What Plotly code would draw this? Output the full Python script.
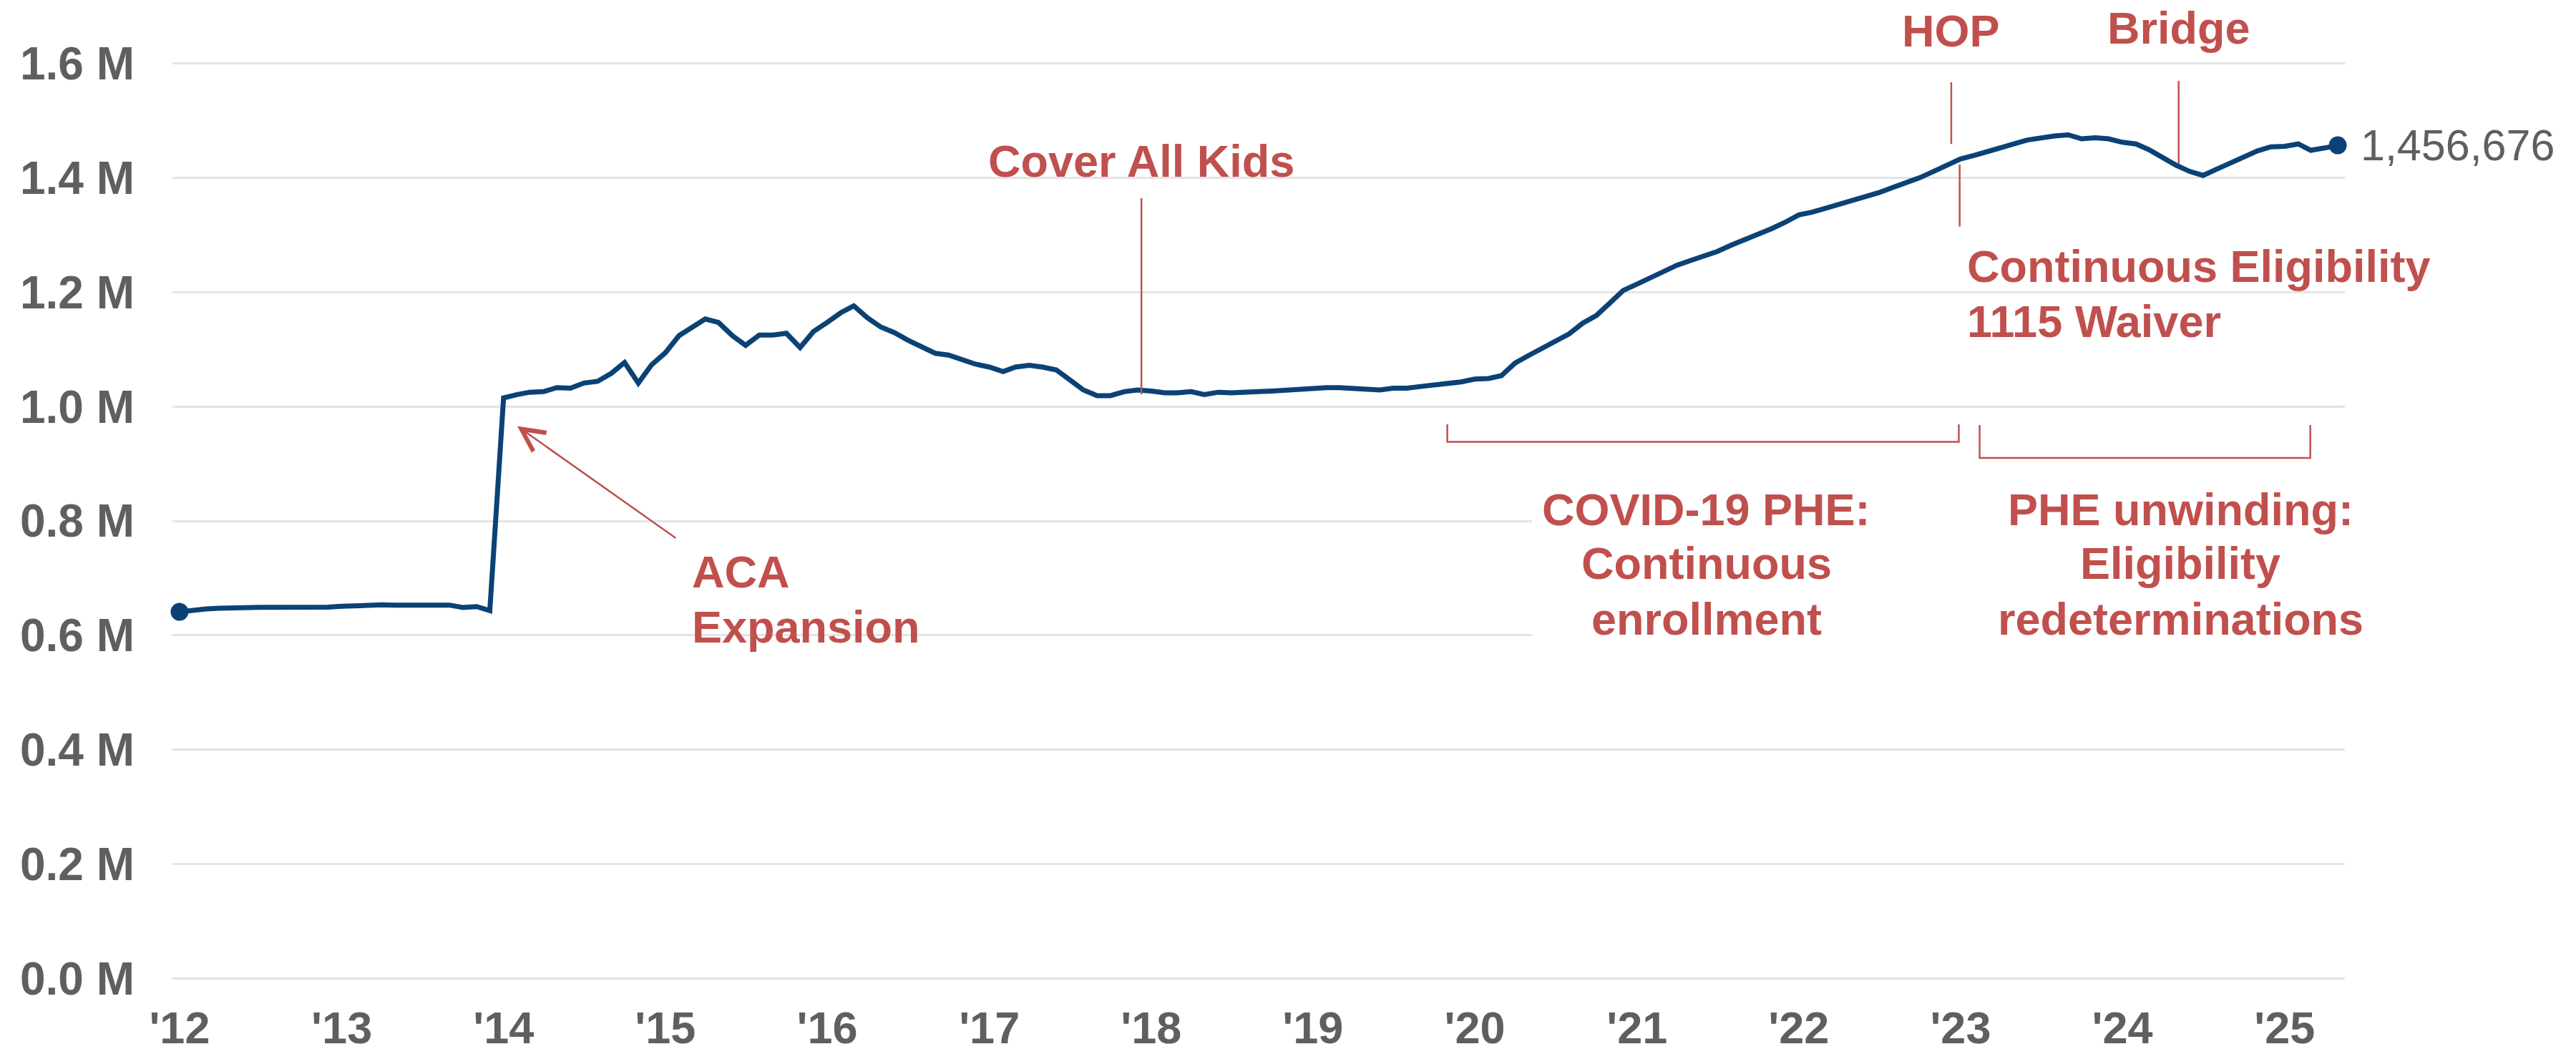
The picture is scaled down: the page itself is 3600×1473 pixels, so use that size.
import pandas as pd
import plotly.graph_objects as go

# Monthly enrollment, January 2012 through May 2025
months = pd.date_range("2012-01-01", "2025-05-01", freq="MS")
enrollment = [
    641000, 644400, 646000, 647400, 648600, 648600, 649000, 649000, 648600, 648600, 649000, 649400,
    650700, 652000, 652800, 653200, 652800, 652400, 652400, 652400, 652800, 648600, 650300, 643200,
    1015000, 1021000, 1025000, 1026000, 1033000, 1032000, 1041000, 1044000, 1058000, 1077000, 1041000, 1073000,
    1094000, 1124000, 1138000, 1153000, 1147000, 1124000, 1107000, 1125000, 1125000, 1128000, 1103000, 1131000,
    1147000, 1164000, 1176000, 1155000, 1139000, 1129000, 1116000, 1104000, 1093000, 1090000, 1082000, 1074000,
    1069000, 1061000, 1069000, 1072000, 1069000, 1064000, 1047000, 1029000, 1019000, 1019000, 1026000, 1029000,
    1027000, 1024000, 1024000, 1026000, 1021000, 1025000, 1024000, 1026000, 1026000, 1027000, 1029000, 1031000,
    1033000, 1033000, 1033000, 1032000, 1030000, 1029000, 1032000, 1032000, 1035000, 1038000, 1039000, 1043000,
    1048000, 1049000, 1054000, 1076000, 1089000, 1102000, 1115000, 1127000, 1146000, 1159000, 1181000, 1203000,
    1214000, 1225000, 1236000, 1247000, 1255000, 1263000, 1271000, 1282000, 1291000, 1300000, 1311000, 1322000,
    1335000, 1340000, 1346000, 1353000, 1359000, 1367000, 1374000, 1383000, 1391000, 1400000, 1411000, 1421000,
    1433000, 1439000, 1446000, 1452000, 1459000, 1466000, 1470000, 1473000, 1475000, 1468000, 1470000, 1468000,
    1462000, 1459000, 1449000, 1435000, 1422000, 1411000, 1404000, 1415000, 1426000, 1436000, 1447000, 1454000,
    1455000, 1459000, 1448000, 1452000, 1456676,
]

year_ticks = [f"{y}-01-01" for y in range(2012, 2026)]
year_labels = [f"'{y % 100:02d}" for y in range(2012, 2026)]
y_ticks = [0, 200000, 400000, 600000, 800000, 1000000, 1200000, 1400000, 1600000]
y_labels = ["0.0 M", "0.2 M", "0.4 M", "0.6 M", "0.8 M", "1.0 M", "1.2 M", "1.4 M", "1.6 M"]

NAVY = "#0b4276"
RED = "#c0504d"
GRAY = "#5f5f5f"
GRID = "#e4e4e4"
FONT = "Liberation Sans, Arial, Helvetica, sans-serif"
TXT = 63

fig = go.Figure()

fig.add_trace(go.Scatter(
    x=months, y=enrollment, mode="lines",
    line=dict(color=NAVY, width=7), hoverinfo="skip", showlegend=False,
))
fig.add_trace(go.Scatter(
    x=[months[0], months[-1]], y=[enrollment[0], enrollment[-1]], mode="markers",
    marker=dict(color=NAVY, size=25), cliponaxis=False,
    hoverinfo="skip", showlegend=False,
))

shapes = []
# white panel behind the two lower bracket captions
shapes.append(dict(type="rect", xref="x", yref="y", layer="above",
                   x0="2020-05-09", x1="2025-06-30", y0=497000, y1=860000,
                   fillcolor="white", line=dict(width=0)))

def vline(x, y0, y1):
    shapes.append(dict(type="line", xref="x", yref="y", x0=x, x1=x, y0=y0, y1=y1,
                       line=dict(color=RED, width=2.5), layer="above"))

vline("2017-12-10", 1021300, 1364200)   # Cover All Kids
vline("2022-12-11", 1459200, 1566700)   # HOP
vline("2022-12-30", 1314800, 1422900)   # Continuous Eligibility
vline("2024-05-07", 1424800, 1569200)   # Bridge

def bracket(x0, x1, y_top, y_bot):
    shapes.append(dict(type="path", xref="x", yref="y", layer="above",
                       path=f"M {x0},{y_top} L {x0},{y_bot} L {x1},{y_bot} L {x1},{y_top}",
                       line=dict(color=RED, width=2.5)))

bracket("2019-10-31", "2022-12-28", 968900, 938100)
bracket("2023-02-13", "2025-02-28", 967600, 910100)

annotations = []

def label(text, x, y, xanchor="center", yref="y", size=TXT, color=RED, bold=True):
    annotations.append(dict(
        text=text, x=x, y=y, xref="x", yref=yref, xanchor=xanchor, yanchor="middle",
        showarrow=False, font=dict(family=FONT, size=size, color=color,
                                   weight="bold" if bold else "normal"),
    ))

label("Cover All Kids", "2017-12-10", 1429200)
label("HOP", "2022-12-11", 1.0315, yref="paper")
label("Bridge", "2024-05-07", 1.0348, yref="paper")
label("Continuous Eligibility", "2023-01-13", 1245800, xanchor="left")
label("1115 Waiver", "2023-01-13", 1149100, xanchor="left")
label("ACA", "2015-02-27", 711100, xanchor="left")
label("Expansion", "2015-02-27", 614800, xanchor="left")

label("COVID-19 PHE:", "2021-06-07", 819400)
label("Continuous", "2021-06-07", 725700)
label("enrollment", "2021-06-07", 628700)
label("PHE unwinding:", "2024-05-11", 819400)
label("Eligibility", "2024-05-11", 725700)
label("redeterminations", "2024-05-11", 628700)

# ACA expansion arrow
annotations.append(dict(
    x="2014-02-01", y=965700, xref="x", yref="y", ax=223, ay=157.5,
    text="", showarrow=True, arrowhead=5, arrowsize=2.5, arrowwidth=2.5,
    arrowcolor=RED, standoff=0, startstandoff=0,
))

# latest value label next to the final point
annotations.append(dict(
    x=months[-1], y=enrollment[-1], xref="x", yref="y", xanchor="left", yanchor="middle",
    xshift=30, showarrow=False, text=f"{enrollment[-1]:,}",
    font=dict(family=FONT, size=61, color=GRAY),
))

fig.update_layout(
    width=3600, height=1473,
    margin=dict(l=241, r=323, t=84, b=102),
    paper_bgcolor="white", plot_bgcolor="white",
    showlegend=False,
    shapes=shapes, annotations=annotations,
    xaxis=dict(
        type="date", range=["2011-12-16", "2025-05-17"],
        tickvals=year_ticks, ticktext=year_labels,
        showgrid=False, zeroline=False, showline=False, ticks="",
        tickfont=dict(family=FONT, size=63, color=GRAY, weight="bold"),
        ticklabelstandoff=23, automargin=False,
    ),
    yaxis=dict(
        range=[-4380, 1605630],
        tickvals=y_ticks, ticktext=y_labels,
        showgrid=True, gridcolor=GRID, gridwidth=2.5,
        zeroline=False, showline=False, ticks="",
        tickfont=dict(family=FONT, size=64, color=GRAY, weight="bold"),
        ticklabelstandoff=52, automargin=False,
    ),
)

fig.write_html("out.html")
